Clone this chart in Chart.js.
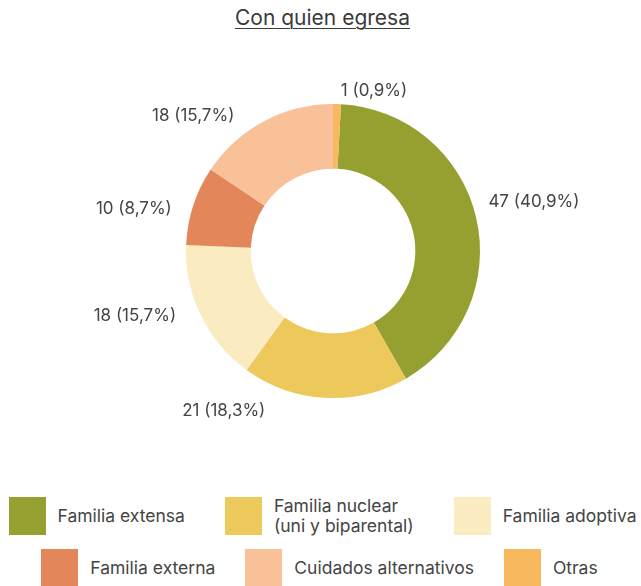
<!DOCTYPE html>
<html>
<head>
<meta charset="utf-8">
<script src="https://cdn.jsdelivr.net/npm/chart.js@4"></script>
<style>
  body { margin: 0; background: #fff; font-family: Inter, sans-serif; }
  #wrap { position: relative; width: 641px; height: 586px; overflow: hidden; }
  #title { position: absolute; top: 5px; left: 0; width: 645px; text-align: center;
    font-size: 21px; line-height: 26px; color: #3a3a3a; text-decoration: underline;
    text-underline-offset: 3px; text-decoration-thickness: 1px; }
  #chartbox { position: absolute; top: 0; left: 0; width: 641px; height: 480px; }
  #legend { position: absolute; top: 497px; left: 0; width: 645px; }
  .row { display: flex; justify-content: center; height: 38px; margin-bottom: 14px; }
  .row1 { gap: 40px; }
  .row2 { gap: 30px; margin-left: -6px; }
  .item { display: flex; align-items: center; }
  .box { width: 37px; height: 38px; margin-right: 12px; flex: none; }
  .txt { font-size: 17.5px; line-height: 20px; color: #444; white-space: nowrap; }
</style>
</head>
<body>
<div id="wrap">
  <div id="title">Con quien egresa</div>
  <div id="chartbox"><canvas id="doughnut"></canvas></div>
  <div id="legend"></div>
</div>
<script>
const labels = ["Familia extensa", "Familia nuclear\n(uni y biparental)", "Familia adoptiva",
  "Familia externa", "Cuidados alternativos", "Otras"];
const values = [47, 21, 18, 10, 18, 1];
const colors = ["#96A030", "#EDC85B", "#FAEBC0", "#E3875A", "#F9C197", "#F8B85E"];

// label nudges: [angle shift in degrees, gap from ring]
const labelPlacement = [[-0.5, 14], [31.3, 17], [7.8, 20], [-6.0, 18], [-17.8, 13], [12.8, 3]];

const total = values.reduce((a, b) => a + b, 0);

function fmt(v) {
  return v + " (" + (v / total * 100).toFixed(1).replace(".", ",") + "%)";
}

const outLabels = {
  id: "outLabels",
  afterDatasetsDraw(chart) {
    const ctx = chart.ctx;
    const meta = chart.getDatasetMeta(0);
    ctx.save();
    ctx.font = "17px Inter, sans-serif";
    ctx.fillStyle = "#444";
    ctx.textAlign = "center";
    ctx.textBaseline = "middle";
    meta.data.forEach(function(arc, i) {
      const p = arc.getProps(["x", "y", "startAngle", "endAngle", "outerRadius"], true);
      const a = (p.startAngle + p.endAngle) / 2 + labelPlacement[i][0] * Math.PI / 180;
      const text = fmt(values[i]);
      const w = ctx.measureText(text).width;
      const dx = Math.cos(a), dy = Math.sin(a);
      const half = Math.abs(dx) * w / 2 + Math.abs(dy) * 7;
      const r = p.outerRadius + labelPlacement[i][1] + half;
      ctx.fillText(text, p.x + dx * r, p.y + dy * r);
    });
    ctx.restore();
  }
};

new Chart(document.getElementById("doughnut"), {
  type: "doughnut",
  data: {
    labels: labels,
    datasets: [{
      data: values,
      backgroundColor: colors,
      borderWidth: 0
    }]
  },
  options: {
    responsive: true,
    maintainAspectRatio: false,
    animation: false,
    cutout: "56%",
    rotation: 360 * values[values.length - 1] / total,
    layout: { padding: { top: 104, bottom: 82, left: 186, right: 161 } },
    plugins: {
      legend: { display: false },
      tooltip: { enabled: false }
    }
  },
  plugins: [outLabels]
});

// html legend, two rows of three
const legend = document.getElementById("legend");
[labels.slice(0, 3), labels.slice(3)].forEach(function(rowLabels, r) {
  const row = document.createElement("div");
  row.className = "row row" + (r + 1);
  rowLabels.forEach(function(l, j) {
    const item = document.createElement("div");
    item.className = "item";
    const box = document.createElement("div");
    box.className = "box";
    box.style.background = colors[r * 3 + j];
    const txt = document.createElement("div");
    txt.className = "txt";
    txt.innerHTML = l.split("\n").join("<br>");
    item.appendChild(box);
    item.appendChild(txt);
    row.appendChild(item);
  });
  legend.appendChild(row);
});
</script>
</body>
</html>
